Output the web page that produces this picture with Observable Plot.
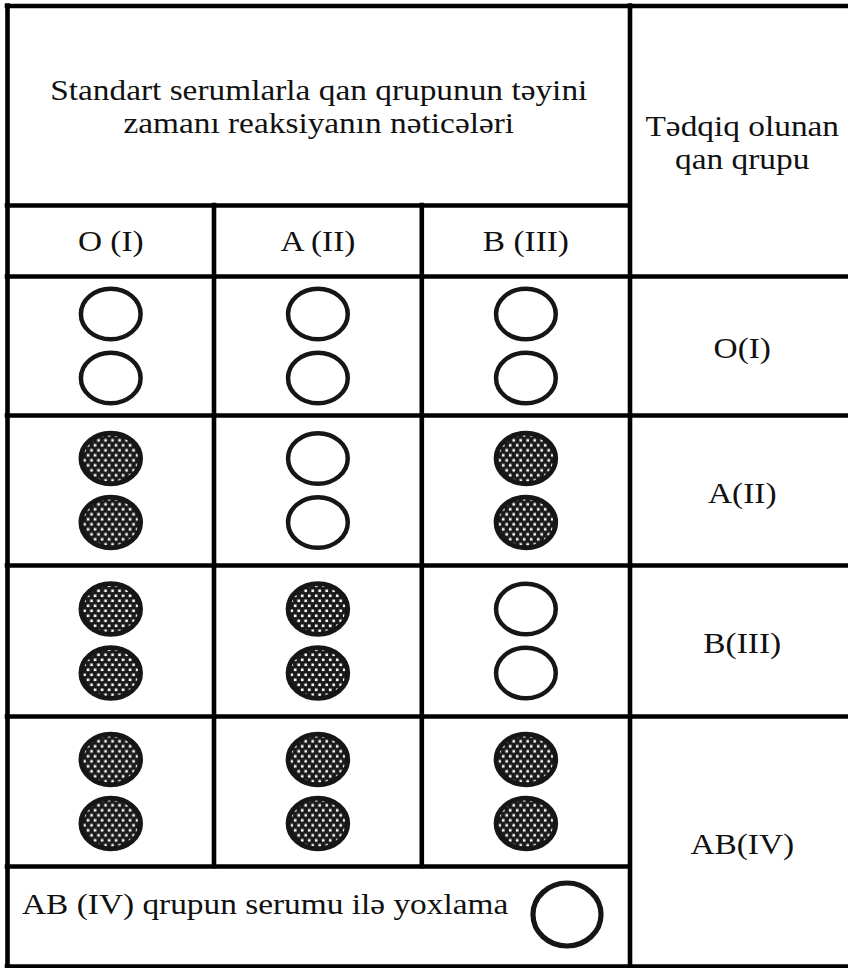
<!DOCTYPE html>
<html>
<head>
<meta charset="utf-8">
<script src="https://cdn.jsdelivr.net/npm/d3@7"></script>
<script src="https://cdn.jsdelivr.net/npm/@observablehq/plot@0.6"></script>
<style>
  html, body { margin: 0; padding: 0; background: #fff; }
  #chart svg { display: block; }
</style>
</head>
<body>
<div id="chart"></div>
<script>
// ---- data ----
const serums = ["O (I)", "A (II)", "B (III)"];
const groups = ["O(I)", "A(II)", "B(III)", "AB(IV)"];
// 1 = agglutination (speckled drop), 0 = no agglutination (clear drop); rows = groups, columns = serums
const reactions = [
  [0, 0, 0],
  [1, 0, 1],
  [1, 1, 0],
  [1, 1, 1]
];
const titleLines = ["Standart serumlarla qan qrupunun təyini", "zamanı reaksiyanın nəticələri"];
const sideTitleLines = ["Tədqiq olunan", "qan qrupu"];
const checkLabel = "AB (IV) qrupun serumu ilə yoxlama";
const checkReaction = [0];

// ---- layout ----
const W = 848, H = 968;
const COL = [7, 213.5, 421.3, 629.5, 850];
const ROW = [5.5, 205, 276, 415, 565, 716, 866, 966];
const LW = 4.6;
const FONT = "'Liberation Serif', 'Times New Roman', serif";
const FS = 29;
const STRETCH = 1.15;
const INK = "#111";

const colMid = j => (COL[j] + COL[j + 1]) / 2;
const cellMid = i => (ROW[2 + i] + ROW[3 + i]) / 2;
const groupMid = i => i === groups.length - 1 ? (ROW[5] + ROW[7]) / 2 : cellMid(i);

function ellipseSymbol(aspect) {
  const k = 0.5522847498;
  return {
    draw(ctx, size) {
      const ry = Math.sqrt(size / Math.PI), rx = ry * aspect;
      const kx = rx * k, ky = ry * k;
      ctx.moveTo(rx, 0);
      ctx.bezierCurveTo(rx, ky, kx, ry, 0, ry);
      ctx.bezierCurveTo(-kx, ry, -rx, ky, -rx, 0);
      ctx.bezierCurveTo(-rx, -ky, -kx, -ry, 0, -ry);
      ctx.bezierCurveTo(kx, -ry, rx, -ky, rx, 0);
      ctx.closePath();
    }
  };
}

// drops: two per cell
const drops = [];
groups.forEach((g, i) => serums.forEach((s, j) => [-1, 1].forEach(k => {
  drops.push({group: g, serum: s, agg: reactions[i][j], x: colMid(j), y: cellMid(i) + k * 32});
})));

const hLines = [
  {y: ROW[0], x1: COL[0], x2: COL[4]},
  {y: ROW[1], x1: COL[0], x2: COL[3]},
  {y: ROW[2], x1: COL[0], x2: COL[4]},
  {y: ROW[3], x1: COL[0], x2: COL[4]},
  {y: ROW[4], x1: COL[0], x2: COL[4]},
  {y: ROW[5], x1: COL[0], x2: COL[4]},
  {y: ROW[6], x1: COL[0], x2: COL[3]},
  {y: ROW[7], x1: COL[0], x2: COL[4]}
];
const vLines = [
  {x: COL[0], y1: ROW[0], y2: ROW[7]},
  {x: COL[1], y1: ROW[1], y2: ROW[6]},
  {x: COL[2], y1: ROW[1], y2: ROW[6]},
  {x: COL[3], y1: ROW[0], y2: ROW[7]},
  {x: COL[4], y1: ROW[0], y2: ROW[7]}
];

const textOpts = {fontFamily: FONT, fontSize: FS, fill: INK, stroke: null};

const chart = Plot.plot({
  width: W,
  height: H,
  margin: 0,
  x: {domain: [0, W], range: [0, W], axis: null},
  y: {domain: [0, H], range: [0, H], axis: null},
  style: {background: "#fff"},
  marks: [
    // grid
    Plot.ruleY(hLines, {y: "y", x1: "x1", x2: "x2", stroke: "#000", strokeWidth: LW, strokeLinecap: "square"}),
    Plot.ruleX(vLines, {x: "x", y1: "y1", y2: "y2", stroke: "#000", strokeWidth: LW, strokeLinecap: "square"}),
    // headers
    Plot.text([titleLines.join("\n")], {
      ...textOpts, text: d => d,
      x: () => (COL[0] + COL[3]) / 2, y: () => (ROW[0] + ROW[1]) / 2,
      textAnchor: "middle", lineAnchor: "middle", lineHeight: 33.5 / FS
    }),
    Plot.text([sideTitleLines.join("\n")], {
      ...textOpts, text: d => d,
      x: () => (COL[3] + COL[4]) / 2 + 2, y: () => (ROW[0] + ROW[2]) / 2 + 1,
      textAnchor: "middle", lineAnchor: "middle", lineHeight: 32.5 / FS
    }),
    Plot.text(serums, {
      ...textOpts, text: d => d,
      x: (d, j) => colMid(j), y: () => (ROW[1] + ROW[2]) / 2 + 1,
      textAnchor: "middle", lineAnchor: "middle"
    }),
    Plot.text(groups, {
      ...textOpts, text: d => d,
      x: () => (COL[3] + COL[4]) / 2 + 2, y: (d, i) => groupMid(i) + 3,
      textAnchor: "middle", lineAnchor: "middle"
    }),
    // drops
    Plot.dot(drops.filter(d => !d.agg), {
      x: "x", y: "y", r: 25.3, symbol: ellipseSymbol(1.18),
      fill: "#fff", stroke: "#161616", strokeWidth: 4.5
    }),
    Plot.dot(drops.filter(d => d.agg), {
      x: "x", y: "y", r: 25.3, symbol: ellipseSymbol(1.18),
      fill: "url(#aggPattern)", stroke: "#161616", strokeWidth: 4.8
    }),
    // AB(IV) serum check row
    Plot.text([checkLabel], {
      ...textOpts, text: d => d,
      x: () => COL[0] + 14.5, y: () => ROW[6] + 38,
      textAnchor: "start", lineAnchor: "middle"
    }),
    Plot.dot(checkReaction, {
      x: () => 566.5, y: () => ROW[6] + 48, r: 31.5, symbol: ellipseSymbol(1.08),
      fill: "#fff", stroke: "#161616", strokeWidth: 5.2
    })
  ]
});

// speckle pattern for agglutinated drops
const svg = d3.select(chart);
const defs = svg.insert("defs", ":first-child");
const pat = defs.append("pattern")
  .attr("id", "aggPattern")
  .attr("patternUnits", "userSpaceOnUse")
  .attr("width", 7).attr("height", 10);
pat.append("rect").attr("width", 7).attr("height", 10).attr("fill", "#1a1a1a");
pat.append("rect").attr("x", 0.5).attr("y", 0.5).attr("width", 2.6).attr("height", 2.6).attr("fill", "#fff");
pat.append("rect").attr("x", 4).attr("y", 5.5).attr("width", 2.6).attr("height", 2.6).attr("fill", "#fff");

// the reference typography is horizontally stretched: widen each text around its anchor
svg.selectAll("text").each(function () {
  const t = d3.select(this);
  const tr = t.attr("transform");
  const m = tr && tr.match(/translate\(\s*([-\d.e]+)[ ,]+([-\d.e]+)\s*\)/);
  if (m) {
    t.attr("transform", `translate(${m[1]},${m[2]}) scale(${STRETCH},1)`);
  } else {
    const x = +t.attr("x") || 0;
    t.attr("transform", `translate(${x},0) scale(${STRETCH},1) translate(${-x},0)`);
  }
});

document.getElementById("chart").appendChild(chart);
</script>
</body>
</html>
